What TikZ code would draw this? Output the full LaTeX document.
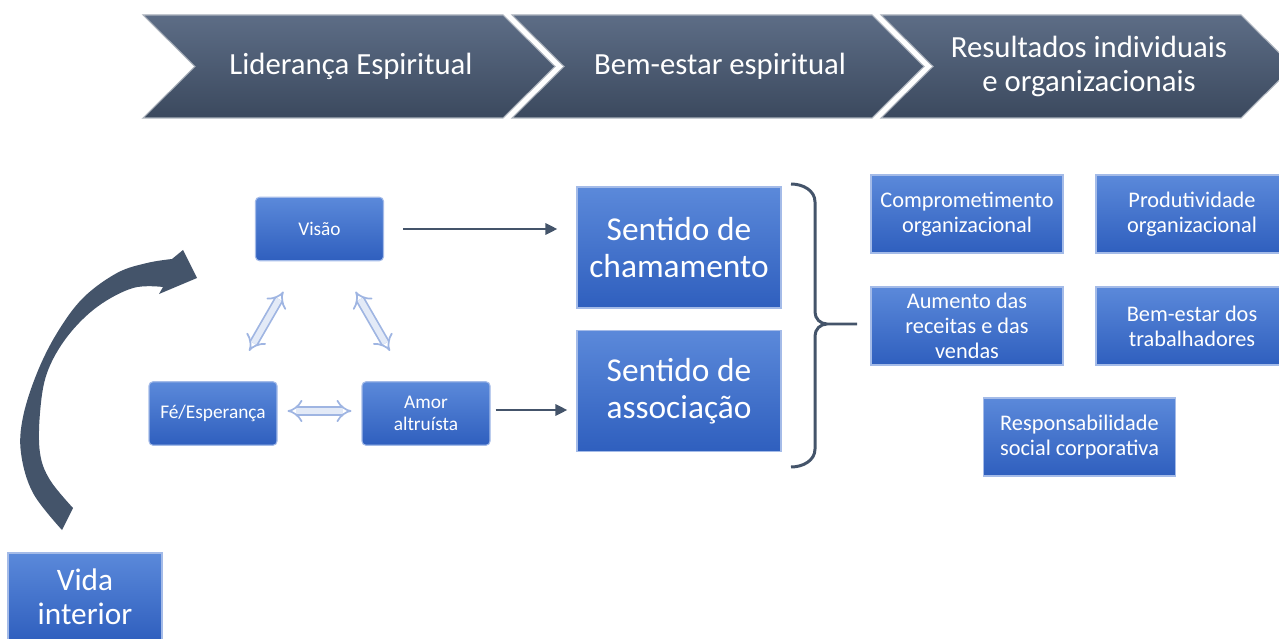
\documentclass[tikz,border=0pt]{standalone}
\usepackage{fontspec}
\setmainfont{Carlito}
\usetikzlibrary{arrows.meta,positioning,calc}
\definecolor{slate}{HTML}{44546A}
\definecolor{slatetop}{HTML}{5D6D86}
\definecolor{slatebot}{HTML}{3B495E}
\definecolor{boxtop}{HTML}{5B89DA}
\definecolor{boxbot}{HTML}{2F5FBE}
\definecolor{boxedge}{HTML}{A4BBE8}
\definecolor{pale}{HTML}{9FB5E2}
\definecolor{paler}{HTML}{E3EAF7}

\tikzset{
  chevron/.style={top color=slatetop, bottom color=slatebot, draw=slate!45, line width=0.6pt},
  stage/.style={text=white, align=center, font=\fontsize{17.5}{19.5}\selectfont},
  bluebox/.style={top color=boxtop, bottom color=boxbot, draw=boxedge, line width=0.6pt,
    text=white, align=center, inner sep=0pt},
  smallbox/.style={bluebox, rounded corners=0.8mm, minimum width=25.6mm, minimum height=12.7mm,
    font=\fontsize{11}{12.5}\selectfont},
  sensebox/.style={bluebox, minimum width=40.8mm, minimum height=24.2mm,
    font=\fontsize{19}{21}\selectfont},
  resultbox/.style={bluebox, minimum width=38.4mm, minimum height=15.6mm,
    font=\fontsize{12.7}{14.2}\selectfont},
  flow/.style={draw=slate, line width=1.7pt, -{Triangle[length=2.4mm,width=2.2mm]}},
  twoway/.style={draw=pale, line width=0.35mm, double=paler, double distance=1.2mm, {Implies}-{Implies}},
  bracket/.style={draw=slate, line width=1.7pt},
}

\begin{document}
\begin{tikzpicture}[x=0.2mm, y=0.2mm]
      \useasboundingbox (0,0) rectangle (1279,-639);
      \clip (0,0) rectangle (1279,-639);

      \foreach \x/\txt [count=\i] in {143/{Liderança Espiritual}, 512/{Bem-estar espiritual},
          881/{Resultados individuais\\e organizacionais}} {
        \draw[chevron] (\x,-15) -- ++(360,0) -- ++(52,-51.5) -- ++(-52,-51.5)
          -- ++(-360,0) -- ++(52,51.5) -- cycle;
        \node[stage] (stage\i) at (\x+208,-66.5) {\txt};
      }

      \path
      (319.5,-229) node[smallbox](visao) {Visão}
      (213,-413.5) node[smallbox](fe) {Fé/Esperança}
      (426,-413.5) node[smallbox](amor) {Amor\\altruísta}
      ;
      \path
      (679,-247.5) node[sensebox](chamado) {Sentido de\\chamamento}
      (679,-391) node[sensebox](assoc) {Sentido de\\associação}
      (85,-597) node[sensebox, minimum width=30.8mm, minimum height=17.6mm,
        font=\fontsize{17.8}{19.5}\selectfont](vida) {Vida\\interior}
      ;
      \path
      (967,-214) node[resultbox](compromisso) {Comprometimento\\organizacional}
      (1192,-214) node[resultbox](produtividade) {Produtividade\\organizacional}
      (967,-326) node[resultbox](receitas) {Aumento das\\receitas e das\\vendas}
      (1192,-326) node[resultbox](bemestar) {Bem-estar dos\\trabalhadores}
      (1079.5,-437) node[resultbox](social) {Responsabilidade\\social corporativa}
      ;

      \fill[slate]
        plot[smooth, tension=0.6] coordinates {(62,-530) (33,-493) (21,-453) (23,-417) (37,-373)
          (57,-333) (83,-298) (117,-273) (147,-263) (172,-259)}
        -- (183,-250) -- (197,-278) -- (159,-294) -- (163,-287)
        -- plot[smooth, tension=0.6] coordinates {(163,-287) (133,-288) (97,-307) (67,-337)
          (47,-373) (40,-413) (40,-453) (50,-480) (73,-508)}
        -- cycle;

      \draw[twoway, shorten <=7mm, shorten >=7mm] (visao) -- (fe);
      \draw[twoway, shorten <=7mm, shorten >=7mm] (visao) -- (amor);
      \draw[twoway, shorten <=2mm, shorten >=2mm] ([yshift=0.5mm]fe.east) -- ([yshift=0.5mm]amor.west);

      \draw[flow, shorten <=3.8mm, shorten >=3.8mm] (visao) -- (visao -| chamado.west);
      \draw[flow, shorten <=1mm, shorten >=1.8mm] ([yshift=0.7mm]amor.east) -- ([yshift=0.7mm]amor.east -| assoc.west);

      \draw[bracket] (791,-184) to[out=0,in=90] (815,-202) -- (815,-312) to[out=-90,in=180] (827,-324) -- (857,-324)
        (827,-324) to[out=180,in=90] (815,-336) -- (815,-449) to[out=-90,in=0] (791,-467);
    \end{tikzpicture}
\end{document}
